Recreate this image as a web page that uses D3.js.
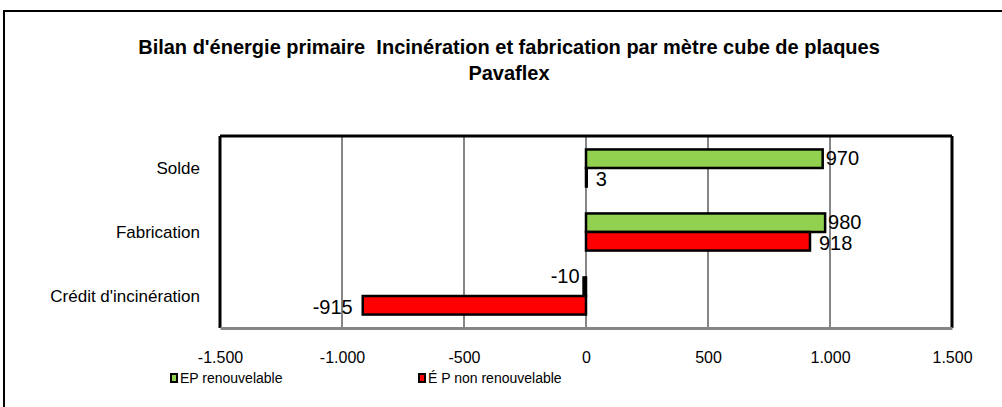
<!DOCTYPE html>
<html>
<head>
<meta charset="utf-8">
<script src="https://cdn.jsdelivr.net/npm/d3@7"></script>
<style>
  body { margin: 0; background: #fff; }
  svg { display: block; font-family: "Liberation Sans", Arial, sans-serif; }
</style>
</head>
<body>
<div id="chart"></div>
<script>
// data
const categories = ['Solde', 'Fabrication', "Crédit d'incinération"];
const seriesNames = ['EP renouvelable', 'É P non renouvelable'];
const seriesColors = ['#92d050', '#ff0000'];
const epRenouvelable = [970, 980, -10];
const epNonRenouvelable = [3, 918, -915];
const xTicks = [-1500, -1000, -500, 0, 500, 1000, 1500];
const titleLines = ["Bilan d'énergie primaire  Incinération et fabrication par mètre cube de plaques", 'Pavaflex'];

const svgWidth = 1002, svgHeight = 407;
const plot = {left: 220, right: 952, top: 136, bottom: 328};

const fr = d3.formatLocale({decimal: ',', thousands: '.', grouping: [3], currency: ['', ' €'], minus: '-'});
const fmt = fr.format(',d');

const svg = d3.select('#chart')
    .append('svg')
    .attr('width', svgWidth)
    .attr('height', svgHeight);

// outer chart border
svg.append('rect')
    .attr('x', 4).attr('y', 11)
    .attr('width', 1010).attr('height', 420)
    .attr('fill', 'none')
    .attr('stroke', '#000')
    .attr('stroke-width', 2);

// title
svg.append('g').selectAll('text')
    .data(titleLines)
    .join('text')
    .attr('x', 509)
    .attr('y', (d, i) => 54 + i * 26)
    .attr('text-anchor', 'middle')
    .attr('font-weight', 'bold')
    .attr('font-size', 20)
    .style('white-space', 'pre')
    .text(d => d);

const x = d3.scaleLinear()
    .domain([-1500, 1500])
    .range([plot.left, plot.right]);

const y = d3.scaleBand()
    .domain(categories)
    .range([plot.top, plot.bottom])
    .paddingInner(0.42)
    .paddingOuter(0.21);

const ySub = d3.scaleBand()
    .domain([0, 1])
    .range([0, y.bandwidth()]);

// gridlines
svg.append('g').selectAll('line')
    .data(xTicks.slice(1, -1))
    .join('line')
    .attr('x1', d => x(d)).attr('x2', d => x(d))
    .attr('y1', plot.top).attr('y2', plot.bottom)
    .attr('stroke', '#868686')
    .attr('stroke-width', 2);

// plot border: black top and sides
svg.append('line')
    .attr('x1', plot.left).attr('x2', plot.right)
    .attr('y1', plot.top).attr('y2', plot.top)
    .attr('stroke', '#000').attr('stroke-width', 3);
svg.append('line')
    .attr('x1', plot.left).attr('x2', plot.left)
    .attr('y1', plot.top).attr('y2', plot.bottom)
    .attr('stroke', '#000').attr('stroke-width', 3);
svg.append('line')
    .attr('x1', plot.right).attr('x2', plot.right)
    .attr('y1', plot.top).attr('y2', plot.bottom)
    .attr('stroke', '#000').attr('stroke-width', 3);

// x axis
const xAxis = svg.append('g')
    .attr('transform', `translate(0,${plot.bottom})`)
    .call(d3.axisBottom(x).tickValues(xTicks).tickFormat(fmt).tickSize(0).tickPadding(24));
xAxis.select('.domain').attr('stroke', '#868686').attr('stroke-width', 3);
xAxis.selectAll('text').attr('font-size', 16).attr('fill', '#000')
    .attr('font-family', '"Liberation Sans", Arial, sans-serif');

// y axis labels
svg.append('g').selectAll('text')
    .data(categories)
    .join('text')
    .attr('x', 200)
    .attr('y', d => y(d) + y.bandwidth() / 2)
    .attr('dy', '0.35em')
    .attr('text-anchor', 'end')
    .attr('font-size', 17)
    .text(d => d);

// bars
const series = [epRenouvelable, epNonRenouvelable];
const rows = [];
series.forEach((vals, s) => {
    vals.forEach((v, i) => rows.push({cat: categories[i], s: s, v: v}));
});

svg.append('g').selectAll('rect')
    .data(rows)
    .join('rect')
    .attr('x', d => x(Math.min(0, d.v)))
    .attr('y', d => y(d.cat) + ySub(d.s))
    .attr('width', d => Math.abs(x(d.v) - x(0)))
    .attr('height', ySub.bandwidth())
    .attr('fill', d => seriesColors[d.s])
    .attr('stroke', '#000')
    .attr('stroke-width', 2.5);

// data labels (second series sits a bit further out, like the original)
const isShortNeg = d => d.v < 0 && Math.abs(x(d.v) - x(0)) < 20;
svg.append('g').selectAll('text')
    .data(rows)
    .join('text')
    .attr('x', d => d.v >= 0 ? x(d.v) + (d.s ? 9 : 3) : x(d.v) - (isShortNeg(d) ? 4 : 10))
    .attr('y', d => {
        const yc = y(d.cat) + ySub(d.s) + ySub.bandwidth() / 2 + (d.s ? 2 : -1);
        // short negative bar: label lifted above the bar
        return isShortNeg(d) ? yc - 10 : yc;
    })
    .attr('dy', '0.35em')
    .attr('text-anchor', d => d.v >= 0 ? 'start' : 'end')
    .attr('font-size', 20)
    .text(d => d.v);

// legend
const legendX = [170, 418];
const legend = svg.append('g').selectAll('g')
    .data(seriesNames)
    .join('g')
    .attr('transform', (d, i) => `translate(${legendX[i]},378)`);
legend.append('rect')
    .attr('x', 1).attr('y', -4)
    .attr('width', 6).attr('height', 8)
    .attr('fill', (d, i) => seriesColors[i])
    .attr('stroke', '#000')
    .attr('stroke-width', 2);
legend.append('text')
    .attr('x', 10)
    .attr('y', 0)
    .attr('dy', '0.35em')
    .attr('font-size', 14)
    .text(d => d);
</script>
</body>
</html>
